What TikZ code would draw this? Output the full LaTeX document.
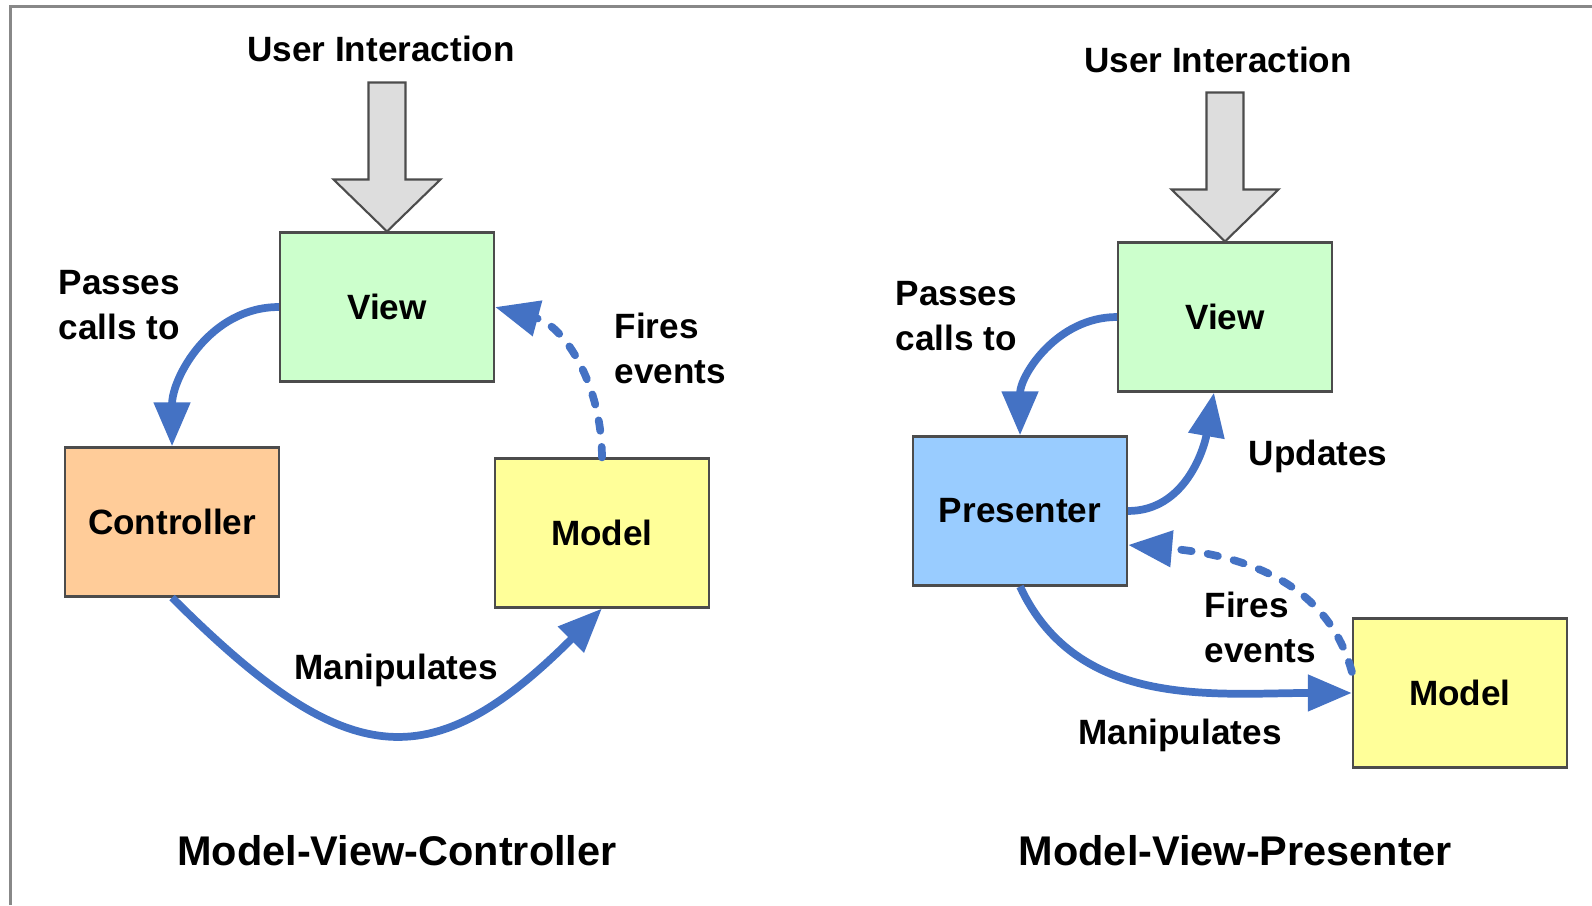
\documentclass[tikz,border=0pt]{standalone}
\usepackage{fontspec}
\setmainfont{Liberation Sans}
\usetikzlibrary{arrows.meta}
\definecolor{viewgreen}{HTML}{CCFFCC}
\definecolor{ctrlorange}{HTML}{FFCC99}
\definecolor{presblue}{HTML}{99CCFF}
\definecolor{modelyellow}{HTML}{FFFF99}
\definecolor{flowblue}{HTML}{4472C4}
\definecolor{uigray}{HTML}{DDDDDD}
\definecolor{framegray}{HTML}{888888}

\begin{document}
\begin{tikzpicture}[node distance=3.04cm,
  font=\fontsize{10}{12.8}\selectfont\bfseries,
  box/.style={draw=black!70,line width=0.6pt,minimum width=2.14cm,minimum height=1.49cm},
  flow/.style={draw=flowblue,line width=2.2pt,-{Triangle[length=0.44cm,width=0.35cm]}},
  fires/.style={flow,line cap=round,dash pattern=on 3pt off 4.6pt},
  uiarrow/.style={draw=black!70,fill=uigray,line width=0.6pt},
  lbl/.style={align=left,inner sep=0pt},
  caption/.style={font=\fontsize{11.8}{14}\selectfont\bfseries,inner sep=0pt}]

\useasboundingbox (0,0) rectangle (15.92,-9.05);
\draw[framegray,line width=0.03cm] (0.10,-9.05) |- (15.92,-0.06);

\node[box,fill=viewgreen](mvcview) at (3.87,-3.07){View};
\node[box,fill=ctrlorange](mvccontroller)[below left of=mvcview]{Controller};
\node[box,fill=modelyellow](mvcmodel)[below right of=mvcview,yshift=-0.11cm]{Model};

\node[box,fill=viewgreen](mvpview) at (12.25,-3.17){View};
\node[box,fill=presblue](mvppresenter)[below left of=mvpview,xshift=0.1cm,yshift=0.21cm]{Presenter};
\node[box,fill=modelyellow](mvpmodel)[below right of=mvpview,xshift=0.2cm,yshift=-1.61cm]{Model};

\node[inner sep=0pt](mvcuser) at (3.81,-0.49){User Interaction};
\node[inner sep=0pt](mvpuser) at (12.18,-0.60){User Interaction};
\draw[uiarrow] (mvcview.north) -- ++(0.535,0.52) -- ++(-0.35,0) -- ++(0,0.97) -- ++(-0.37,0) -- ++(0,-0.97) -- ++(-0.35,0) -- cycle;
\draw[uiarrow] (mvpview.north) -- ++(0.535,0.52) -- ++(-0.35,0) -- ++(0,0.97) -- ++(-0.37,0) -- ++(0,-0.97) -- ++(-0.35,0) -- cycle;

\node[lbl,anchor=west](mvcpasses) at (0.58,-3.05){Passes\\calls to};
\node[lbl,anchor=west](mvcfires) at (6.14,-3.48){Fires\\events};
\node[lbl](mvcmanip) at (3.96,-6.70){Manipulates};
\node[lbl,anchor=west](mvppasses) at (8.95,-3.16){Passes\\calls to};
\node[lbl,anchor=west](mvpupdates) at (12.48,-4.56){Updates};
\node[lbl,anchor=west](mvpfires) at (12.04,-6.27){Fires\\events};
\node[lbl](mvpmanip) at (11.80,-7.35){Manipulates};

\node[caption](mvctitle) at (3.97,-8.51){Model-View-Controller};
\node[caption](mvptitle) at (12.35,-8.51){Model-View-Presenter};

\path(mvcview.west)edge[flow,out=180,in=90](mvccontroller.north)
	(mvccontroller.south)edge[flow,out=-45,in=-135,looseness=1.45](mvcmodel.south)
	(mvcmodel.north)edge[fires,out=90,in=-15](mvcview.east)
	(mvpview.west)edge[flow,out=180,in=90](mvppresenter.north)
	(mvppresenter.east)edge[flow,out=0,in=-100]([xshift=-0.11cm]mvpview.south)
	(mvppresenter.south)edge[flow,out=-65,in=180](mvpmodel.west)
	([yshift=0.21cm]mvpmodel.west)edge[fires,out=105,in=-5]([yshift=-0.34cm]mvppresenter.east);

\end{tikzpicture}
\end{document}
